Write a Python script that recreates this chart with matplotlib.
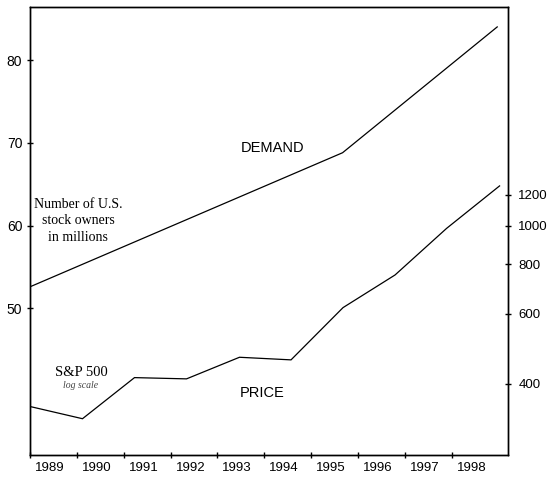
import matplotlib
matplotlib.use("Agg")
import matplotlib.pyplot as plt
from matplotlib.ticker import FixedLocator, NullFormatter, NullLocator

# ---- data ----
years = [1989, 1990, 1991, 1992, 1993, 1994, 1995, 1996, 1997, 1998]
year_labels = [str(y) for y in years]

demand_x = [1989.0, 1995.67, 1998.97]
demand_millions = [52.6, 68.8, 84.0]

price_x = [1989.0, 1990.12, 1991.23, 1992.34, 1993.47, 1994.57,
           1995.68, 1996.79, 1997.89, 1999.02]
sp500 = [350, 326, 414, 411, 466, 459, 622, 752, 986, 1262]

left_ticks = [50, 60, 70, 80]
right_ticks = [400, 600, 800, 1000, 1200]

# ---- figure ----
W, H, DPI = 555, 483, 100
fig = plt.figure(figsize=(W / DPI, H / DPI), dpi=DPI)
ax = fig.add_axes([30 / W, 1 - 455 / H, (508 - 30) / W, (455 - 7.3) / H])
ax2 = ax.twinx()

sans = ['Liberation Sans', 'DejaVu Sans']
serif = ['Liberation Serif', 'DejaVu Serif']

ax.plot(demand_x, demand_millions, color='black', lw=0.9, solid_joinstyle='miter')
ax2.plot(price_x, sp500, color='black', lw=0.9, solid_joinstyle='miter')

ax.set_xlim(1989.0, 1999.2)
ax.set_ylim(32.28, 86.37)
ax2.set_yscale('log')
ax2.set_ylim(264, 3565)

# x ticks: marks at years, labels offset to the right
ax.xaxis.set_major_locator(FixedLocator(years))
ax.xaxis.set_major_formatter(NullFormatter())
ax.xaxis.set_minor_locator(FixedLocator([y + 0.42 for y in years]))
ax.set_xticklabels(year_labels, minor=True, fontfamily=sans, fontsize=9.5)
ax.tick_params(axis='x', which='major', direction='inout', length=5, width=1)
ax.tick_params(axis='x', which='minor', length=0, pad=5)

ax.set_yticks(left_ticks)
ax.set_yticklabels([str(v) for v in left_ticks], fontfamily=sans, fontsize=10)
ax.tick_params(axis='y', direction='inout', length=5, width=1, pad=3)

ax2.yaxis.set_major_locator(FixedLocator(right_ticks))
ax2.yaxis.set_minor_locator(NullLocator())
ax2.set_yticklabels([str(v) for v in right_ticks], fontfamily=sans, fontsize=9.5)
ax2.yaxis.set_minor_formatter(NullFormatter())
ax2.tick_params(axis='y', direction='inout', length=5, width=1, pad=5)

for a in (ax, ax2):
    for s in a.spines.values():
        s.set_linewidth(1.0)

# annotations (axes-fraction positions)
def px(x, y):
    return ((x - 30) / (508 - 30), (455 - y) / (455 - 7.3))

ax.text(*px(273, 148), 'DEMAND', transform=ax.transAxes, ha='center', va='center',
        fontfamily=sans, fontsize=10.5)
ax.text(*px(262, 393), 'PRICE', transform=ax.transAxes, ha='center', va='center',
        fontfamily=sans, fontsize=10.5)
ax.text(*px(78, 221), 'Number of U.S.\nstock owners\nin millions', transform=ax.transAxes,
        ha='center', va='center', fontfamily=serif, fontsize=10, linespacing=1.35)
ax.text(*px(81, 372), 'S&P 500', transform=ax.transAxes, ha='center', va='center',
        fontfamily=serif, fontsize=10.5)
ax.text(*px(81, 386), 'log scale', transform=ax.transAxes, ha='center', va='center',
        fontfamily=serif, fontstyle='italic', fontsize=7, color='#444444')

fig.savefig('out.png', dpi=DPI)
